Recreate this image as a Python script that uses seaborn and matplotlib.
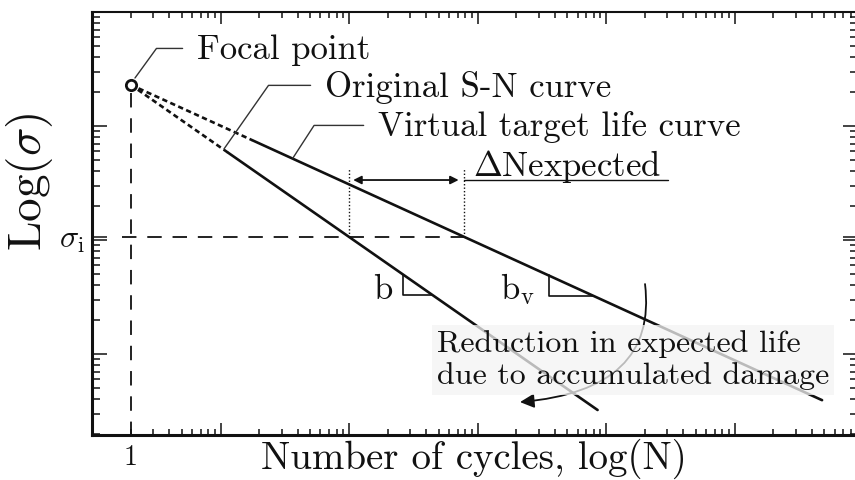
import numpy as np
import matplotlib
matplotlib.use("Agg")
import matplotlib.pyplot as plt
from matplotlib.ticker import FixedLocator, FuncFormatter, NullFormatter
import seaborn as sns

# ---- curve data (stress amplitude sigma vs. number of cycles N) ----
focal_N = [1.0]
focal_sigma = [230.0]

# original S-N curve: extrapolated part towards the focal point, then the fitted part
sn_ext_N = [1.0, 5.7]
sn_ext_sigma = [230.0, 58.6]
sn_N = [5.7, 4300.0]
sn_sigma = [58.6, 0.323]

# virtual target life curve
vt_ext_N = [1.0, 8.9]
vt_ext_sigma = [230.0, 74.8]
vt_N = [8.9, 240000.0]
vt_sigma = [74.8, 0.394]

sigma_i = 10.6
life_at_sigma_i = [50.0, 394.0]      # original, virtual

# slope triangles drawn under each curve
b_tri_N = [131.6, 221.3]
b_tri_sigma = [4.97, 3.30]
bv_tri_N = [1800.0, 3961.0]
bv_tri_sigma = [4.89, 3.26]

x_limits = (0.5, 4.57e5)
y_limits = (0.195, 1000.0)

# ---- style ----
sns.set_style("ticks")
plt.rcParams["font.family"] = ["cmr10", "DejaVu Serif"]
plt.rcParams["mathtext.fontset"] = "cm"
plt.rcParams["axes.formatter.use_mathtext"] = True

INK = "#111111"
fig = plt.figure(figsize=(8.55, 4.8), dpi=100)
ax = fig.add_axes([92 / 855, 45 / 480, 766 / 855, 423 / 480])
ax.set_xscale("log")
ax.set_yscale("log")
ax.set_xlim(*x_limits)
ax.set_ylim(*y_limits)

# curves
line_kw = dict(ax=ax, color=INK, linewidth=1.9, estimator=None, legend=False)
sns.lineplot(x=sn_ext_N, y=sn_ext_sigma, linestyle=(0, (2.0, 1.3)), **line_kw)
sns.lineplot(x=vt_ext_N, y=vt_ext_sigma, linestyle=(0, (2.0, 1.3)), **line_kw)
sns.lineplot(x=sn_N, y=sn_sigma, **line_kw)
sns.lineplot(x=vt_N, y=vt_sigma, **line_kw)

# slope triangles
sns.lineplot(x=[b_tri_N[0], b_tri_N[0], b_tri_N[1]],
             y=[b_tri_sigma[0], b_tri_sigma[1], b_tri_sigma[1]],
             ax=ax, color=INK, linewidth=1.2, sort=False, estimator=None)
sns.lineplot(x=[bv_tri_N[0], bv_tri_N[0], bv_tri_N[1]],
             y=[bv_tri_sigma[0], bv_tri_sigma[1], bv_tri_sigma[1]],
             ax=ax, color=INK, linewidth=1.2, sort=False, estimator=None)

# reference lines through the focal point and at sigma_i
ax.plot([focal_N[0], focal_N[0]], [focal_sigma[0] * 0.85, y_limits[0]],
        color=INK, lw=1.3, linestyle=(0, (8, 6)), zorder=2)
ax.plot([0.856, life_at_sigma_i[1]], [sigma_i, sigma_i],
        color=INK, lw=1.3, linestyle=(0, (8, 6)), zorder=2)
for n in life_at_sigma_i:
    ax.plot([n, n], [sigma_i, 42.8], color=INK, lw=1.0, linestyle=(0, (1, 1.5)), zorder=2)

# focal point marker
sns.scatterplot(x=focal_N, y=focal_sigma, ax=ax, s=55, marker="o",
                facecolor="white", edgecolor=INK, linewidth=2.0, zorder=6)

# delta-N arrow and its label
ax.annotate("", xy=(life_at_sigma_i[1], 33.6), xytext=(life_at_sigma_i[0], 33.6),
            arrowprops=dict(arrowstyle="<|-|>", lw=1.3, color=INK,
                            shrinkA=3, shrinkB=4, mutation_scale=12))
ax.plot([life_at_sigma_i[1], 15190], [33.6, 33.6], color=INK, lw=1.0)
ax.text(461, 36.4, r"$\Delta$Nexpected", fontsize=25, ha="left", va="baseline", color=INK)

# labels with leader lines
leader = dict(arrowstyle="-", lw=1.0, color="#333333", shrinkA=8, shrinkB=0)
ax.annotate("Focal point", xy=(1.08, 263.7), xytext=(3.28, 464),
            fontsize=25, ha="left", va="center", color=INK,
            arrowprops=dict(connectionstyle="angle,angleA=0,angleB=54,rad=0",
                            relpos=(0, 0.55), **leader))
ax.annotate("Original S-N curve", xy=(5.32, 62.9), xytext=(32.5, 219.8),
            fontsize=25, ha="left", va="center", color=INK,
            arrowprops=dict(connectionstyle="angle,angleA=0,angleB=55,rad=0",
                            relpos=(0, 0.55), **leader))
ax.annotate("Virtual target life curve", xy=(18.3, 52.4), xytext=(84.1, 98.0),
            fontsize=25, ha="left", va="center", color=INK,
            arrowprops=dict(connectionstyle="angle,angleA=0,angleB=57,rad=0",
                            relpos=(0, 0.55), **leader))

ax.text(108, 3.04, "b", fontsize=25, ha="right", va="baseline", color=INK)
ax.text(748, 3.04, r"b$_{\mathrm{v}}$", fontsize=25, ha="left", va="baseline", color=INK)

# curved arrow and the note it refers to
ax.annotate("", xy=(1071, 0.379), xytext=(10058, 4.11),
            arrowprops=dict(arrowstyle="-|>,head_length=0.6,head_width=0.3",
                            connectionstyle="angle3,angleA=-83,angleB=5",
                            lw=1.3, color=INK, mutation_scale=14,
                            shrinkA=0, shrinkB=0), zorder=3)
ax.text(242, 0.886, "Reduction in expected life\ndue to accumulated damage",
        fontsize=23, ha="left", va="center", color=INK, zorder=5,
        bbox=dict(boxstyle="square,pad=0.15", fc="#f4f4f4", ec="none", alpha=0.75))

# ---- axes, ticks ----
x_major = [5 * 10 ** k for k in range(0, 6)]
x_minor = [0.5 * m * 10 ** k for k in range(0, 6) for m in range(2, 10)]
ax.xaxis.set_major_locator(FixedLocator([v for v in x_major if v <= x_limits[1]]))
ax.xaxis.set_minor_locator(FixedLocator([v for v in x_minor if v <= x_limits[1]]))
ax.xaxis.set_major_formatter(NullFormatter())
ax.xaxis.set_minor_formatter(FuncFormatter(lambda v, p: "1" if abs(v - 1) < 1e-9 else ""))

y_major = [1.0, 10.0, 100.0, 1000.0, sigma_i]
y_minor = [m * 10.0 ** k for k in range(-1, 3) for m in range(2, 10)]
ax.yaxis.set_major_locator(FixedLocator(y_major))
ax.yaxis.set_minor_locator(FixedLocator([v for v in y_minor if v >= y_limits[0]]))
ax.yaxis.set_major_formatter(FuncFormatter(
    lambda v, p: r"$\sigma_\mathrm{i}$" if abs(v - sigma_i) < 1e-9 else ""))
ax.yaxis.set_minor_formatter(NullFormatter())

ax.tick_params(axis="x", which="both", direction="in", top=True, bottom=True,
               color=INK, width=1.1)
ax.tick_params(axis="x", which="major", length=8.6)
ax.tick_params(axis="x", which="minor", length=4.3, labelsize=20, pad=7, labelcolor=INK)
ax.tick_params(axis="y", which="both", direction="in", left=True, right=True,
               color=INK, width=1.1)
ax.tick_params(axis="y", which="major", length=10.5, labelsize=23, pad=5, labelcolor=INK)
ax.tick_params(axis="y", which="minor", length=6.0)

for side, w in {"left": 2.2, "bottom": 2.2, "top": 1.5, "right": 1.5}.items():
    ax.spines[side].set_visible(True)
    ax.spines[side].set_linewidth(w)
    ax.spines[side].set_color(INK)

ax.set_xlabel("Number of cycles, log(N)", fontsize=28, color=INK)
ax.xaxis.set_label_coords(0.498, -0.057)
ax.xaxis.label.set_va("center")
ax.set_ylabel(r"Log($\sigma$)", fontsize=34, color=INK)
ax.yaxis.set_label_coords(-0.081, 0.598)
ax.yaxis.label.set_va("center")

fig.savefig("out.png", dpi=100)
